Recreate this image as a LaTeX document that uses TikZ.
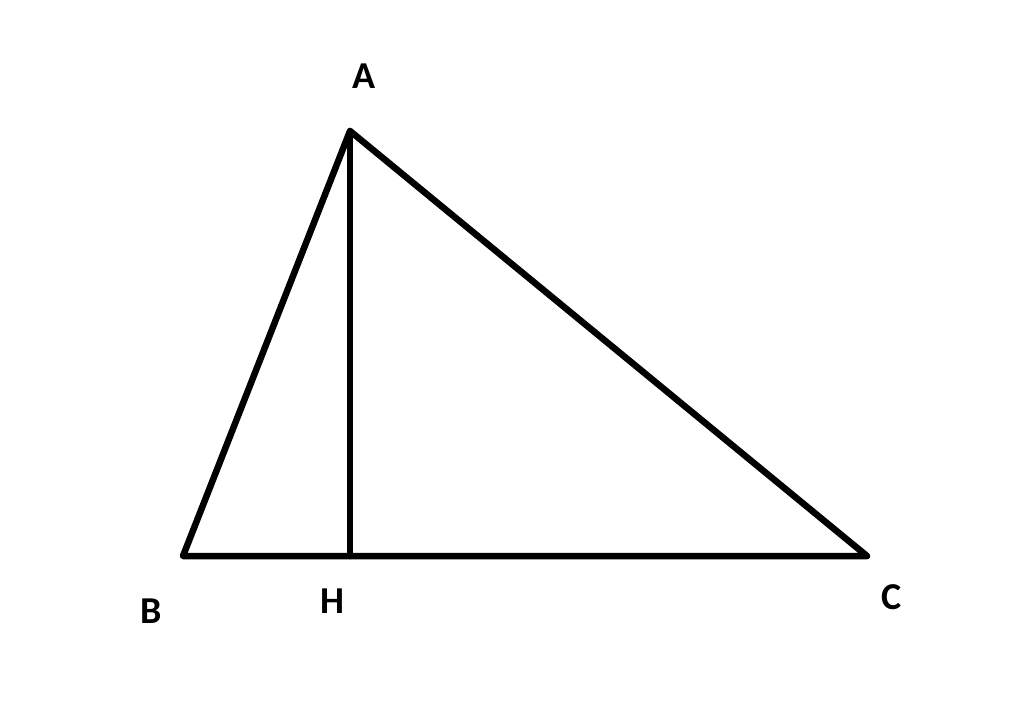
\documentclass[tikz,border=0pt]{standalone}
\usepackage{fontspec}
\setmainfont{Carlito}
\tikzstyle{side} = [line width=6.5pt, line join=round, line cap=round, draw=black]
\tikzstyle{vlabel} = [font=\fontsize{38}{40}\selectfont\bfseries, inner sep=0pt, anchor=center]

\begin{document}
\begin{tikzpicture}[x=1pt,y=-1pt]
    \useasboundingbox (0,0) rectangle (1024,722);
    \coordinate (A) at (350,131);
    \coordinate (B) at (183,556);
    \coordinate (C) at (867,556);
    \coordinate (H) at (350,556);

    \node (lA) [vlabel] at (364,76) {A};
    \node (lB) [vlabel] at (151,611) {B};
    \node (lH) [vlabel] at (332,601) {H};
    \node (lC) [vlabel] at (892,597) {C};

    \draw[side] (A) -- (B) -- (C) -- cycle;
    \draw[side] (A) -- (H);

\end{tikzpicture}
\end{document}
